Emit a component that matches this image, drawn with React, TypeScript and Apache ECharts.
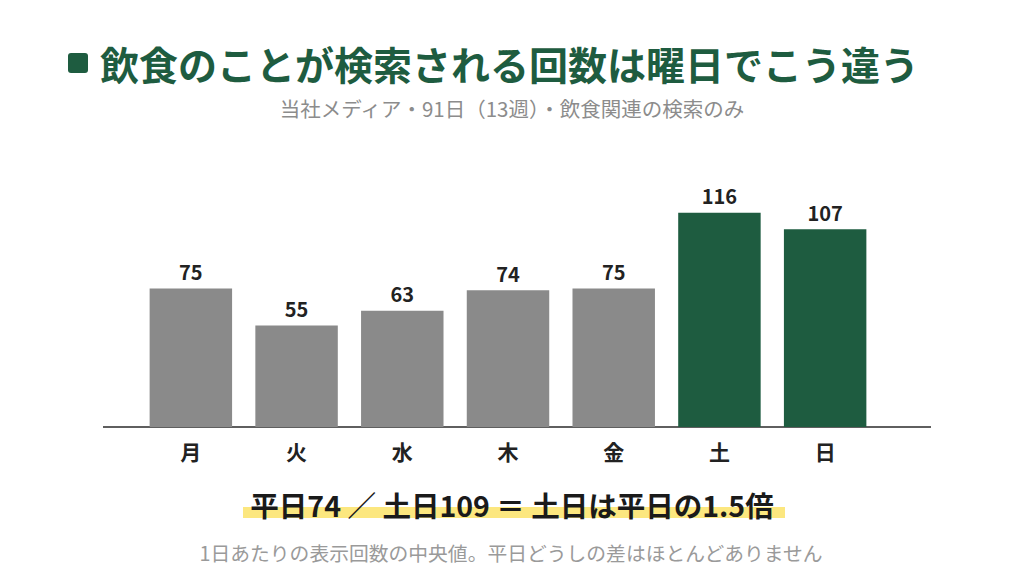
import React, { useEffect, useRef } from "react";
import * as echarts from "echarts";

const days = ["月", "火", "水", "木", "金", "土", "日"];
const counts = [75, 55, 63, 74, 75, 116, 107];
const weekend = [false, false, false, false, false, true, true];

const titleText = "飲食のことが検索される回数は曜日でこう違う";
const subText = "当社メディア・91日（13週）・飲食関連の検索のみ";
const summaryText = "平日74 ／ 土日109 ＝ 土日は平日の1.5倍";
const noteText = "1日あたりの表示回数の中央値。平日どうしの差はほとんどありません";

const GREEN = "#1e5c40";
const GRAY = "#8a8a8a";
const FONT = "'Noto Sans CJK JP', 'Noto Sans', sans-serif";

const App = () => {
  const chartRef = useRef<HTMLDivElement>(null);

  useEffect(() => {
    if (!chartRef.current) return;
    const chart = echarts.init(chartRef.current, null, { renderer: "svg" });

    chart.setOption({
      animation: false,
      backgroundColor: "#ffffff",
      textStyle: { fontFamily: FONT },
      grid: { left: 138, width: 740, top: 168.4, bottom: 149 },
      xAxis: {
        type: "category",
        data: days,
        axisLine: { show: false },
        axisTick: { show: false },
        axisLabel: {
          color: "#222",
          fontSize: 21,
          fontWeight: "bold",
          lineHeight: 21,
          margin: 13,
          fontFamily: FONT,
        },
      },
      yAxis: {
        type: "value",
        min: 0,
        max: 140,
        show: false,
        splitLine: { show: false },
      },
      series: [
        {
          type: "bar",
          barWidth: "78%",
          data: counts.map((v, i) => ({
            value: v,
            itemStyle: { color: weekend[i] ? GREEN : GRAY },
          })),
          label: {
            show: true,
            position: "top",
            distance: 7,
            color: "#222",
            fontSize: 20,
            fontWeight: "bold",
            fontFamily: FONT,
          },
        },
      ],
      graphic: [
        {
          type: "rect",
          shape: { x: 68, y: 53, width: 20, height: 20, r: 3 },
          style: { fill: GREEN },
        },
        {
          type: "text",
          x: 100,
          y: 63,
          style: {
            text: titleText,
            fill: GREEN,
            font: `bold 39px ${FONT}`,
            textAlign: "left",
            textVerticalAlign: "middle",
          },
        },
        {
          type: "text",
          x: 512,
          y: 108,
          style: {
            text: subText,
            fill: "#8c8c8c",
            font: `20.5px ${FONT}`,
            textAlign: "center",
            textVerticalAlign: "middle",
          },
        },
        {
          type: "line",
          shape: { x1: 103, y1: 427, x2: 931, y2: 427 },
          style: { stroke: "#2a2a2a", lineWidth: 1.5 },
        },
        {
          type: "rect",
          shape: { x: 243, y: 507, width: 542, height: 11 },
          style: { fill: "#fce77f" },
        },
        {
          type: "text",
          x: 512,
          y: 504,
          style: {
            text: summaryText,
            fill: "#1a1a1a",
            font: `bold 28.5px ${FONT}`,
            textAlign: "center",
            textVerticalAlign: "middle",
          },
        },
        {
          type: "text",
          x: 511,
          y: 552,
          style: {
            text: noteText,
            fill: "#9a9a9a",
            font: `19.8px ${FONT}`,
            textAlign: "center",
            textVerticalAlign: "middle",
          },
        },
      ],
    });

    return () => {
      chart.dispose();
    };
  }, []);

  return (
    <div
      ref={chartRef}
      style={{ width: 1024, height: 576, position: "absolute", left: 0, top: 0 }}
    />
  );
};

export default App;
